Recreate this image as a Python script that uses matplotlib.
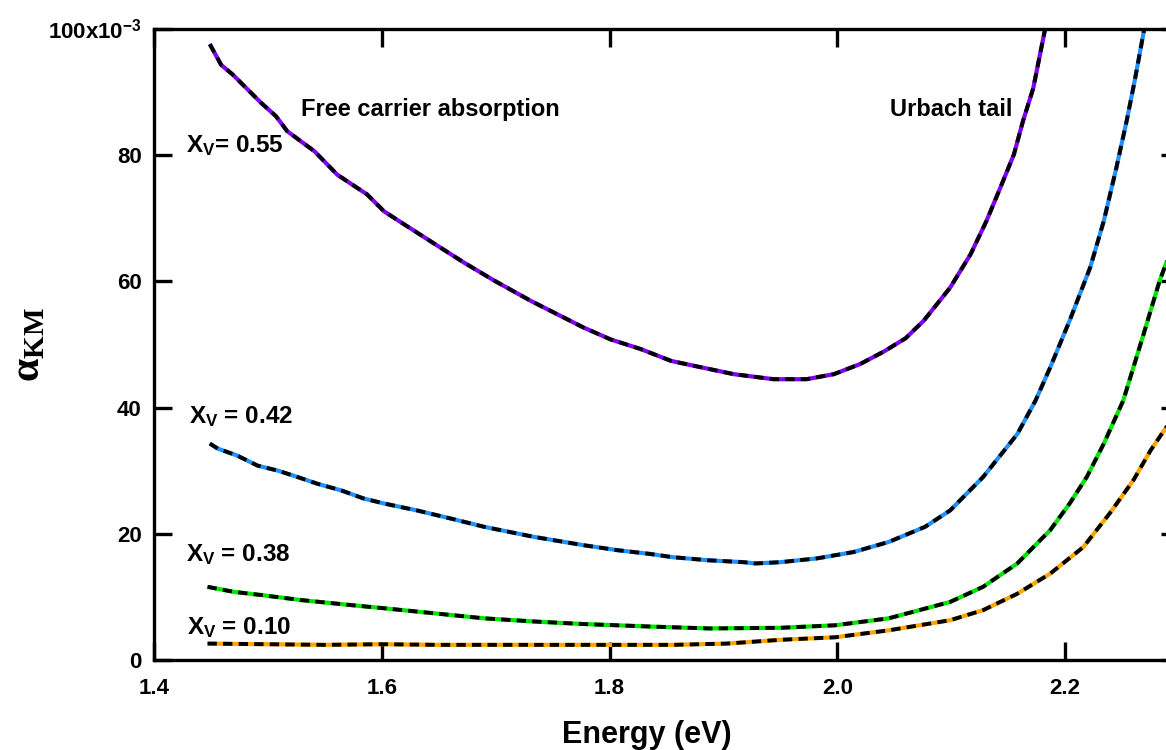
import matplotlib
matplotlib.use("Agg")
import matplotlib.pyplot as plt

# ============================================================
# DATA  (alpha_KM in units of 1e-3)
# ============================================================

x_055 = [1.449, 1.459, 1.469, 1.484, 1.494, 1.507, 1.517, 1.541, 1.561, 1.587,
         1.602, 1.620, 1.652, 1.672, 1.699, 1.731, 1.754, 1.777, 1.801, 1.827,
         1.854, 1.880, 1.909, 1.944, 1.973, 1.997, 2.020, 2.041, 2.060, 2.076,
         2.099, 2.117, 2.131, 2.143, 2.155, 2.163, 2.172, 2.183]
y_055 = [97.6, 94.3, 92.8, 90.1, 88.3, 86.2, 83.8, 80.6, 76.9, 73.8,
         71.1, 69.0, 65.3, 63.0, 60.1, 56.9, 54.8, 52.7, 50.8, 49.3,
         47.4, 46.4, 45.3, 44.5, 44.5, 45.3, 46.9, 48.9, 51.0, 53.8,
         59.0, 64.3, 69.6, 74.8, 80.1, 85.4, 90.6, 100.5]

x_042 = [1.449, 1.456, 1.473, 1.491, 1.509, 1.526, 1.544, 1.564, 1.584, 1.602,
         1.631, 1.661, 1.690, 1.734, 1.777, 1.807, 1.836, 1.855, 1.887, 1.918,
         1.928, 1.950, 1.982, 2.014, 2.045, 2.077, 2.099, 2.128, 2.158, 2.174,
         2.187, 2.204, 2.222, 2.234, 2.245, 2.254, 2.261, 2.270]
y_042 = [34.3, 33.5, 32.4, 30.8, 30.0, 29.0, 27.9, 26.9, 25.6, 24.8,
         23.7, 22.4, 21.1, 19.5, 18.2, 17.4, 16.8, 16.3, 15.8, 15.5,
         15.3, 15.5, 16.1, 17.1, 18.7, 21.1, 23.7, 29.0, 35.8, 41.1,
         46.4, 53.8, 62.2, 69.6, 78.0, 85.4, 91.7, 100.5]

x_038 = [1.447, 1.470, 1.494, 1.529, 1.573, 1.602, 1.646, 1.690, 1.734, 1.777,
         1.836, 1.887, 1.950, 1.998, 2.045, 2.099, 2.128, 2.158, 2.187, 2.204,
         2.219, 2.234, 2.251, 2.268, 2.283, 2.290]
y_038 = [11.6, 10.8, 10.3, 9.5, 8.7, 8.2, 7.4, 6.6, 6.1, 5.7,
         5.3, 5.0, 5.1, 5.5, 6.6, 9.2, 11.6, 15.3, 20.6, 24.8,
         29.0, 34.3, 41.1, 51.1, 60.1, 63.5]

x_010 = [1.447, 1.500, 1.550, 1.600, 1.650, 1.700, 1.750, 1.800, 1.855, 1.903,
         1.950, 1.998, 2.045, 2.099, 2.128, 2.158, 2.187, 2.216, 2.239, 2.260,
         2.275, 2.290]
y_010 = [2.6, 2.5, 2.4, 2.5, 2.4, 2.4, 2.4, 2.4, 2.4, 2.6,
         3.2, 3.6, 4.7, 6.3, 7.9, 10.5, 13.7, 17.9, 23.2, 28.5,
         33.2, 37.2]

series = [
    (x_055, y_055, "#7f00f0"),
    (x_042, y_042, "#1e90ff"),
    (x_038, y_038, "#00e600"),
    (x_010, y_010, "#ffa500"),
]

yticks = [0, 20, 40, 60, 80, 100]
ytick_labels = ["0", "20", "40", "60", "80", r"100x10$^{\mathbf{-3}}$"]
xticks = [1.4, 1.6, 1.8, 2.0, 2.2]
xtick_labels = ["1.4", "1.6", "1.8", "2.0", "2.2"]

# ============================================================
# STYLE
# ============================================================

plt.rcParams["font.family"] = ["Liberation Sans", "DejaVu Sans"]
plt.rcParams["font.weight"] = "bold"
plt.rcParams["mathtext.fontset"] = "custom"
plt.rcParams["mathtext.rm"] = "Liberation Serif"
plt.rcParams["mathtext.it"] = "Liberation Serif:italic"
plt.rcParams["mathtext.bf"] = "Liberation Sans:bold"

fig = plt.figure(figsize=(11.66, 7.5), dpi=100)
ax = fig.add_axes([154 / 1166, 90 / 750, 1025 / 1166, 631 / 750])

for xs, ys, c in series:
    ax.plot(xs, ys, color=c, lw=3.0, solid_capstyle="butt",
            solid_joinstyle="round")
    ax.plot(xs, ys, color="black", lw=2.8, linestyle=(0, (2.4, 1.6)),
            dash_joinstyle="round")

ax.set_xlim(1.4, 2.3)
ax.set_ylim(0, 100)

ax.set_xticks(xticks)
ax.set_xticklabels(xtick_labels)
ax.set_yticks(yticks)
ax.set_yticklabels(ytick_labels)

ax.tick_params(axis="both", direction="in", length=13, width=2.4,
               top=True, right=True, labelsize=16)
ax.tick_params(axis="x", pad=13)
ax.tick_params(axis="y", pad=9)
for lab in ax.get_xticklabels() + ax.get_yticklabels():
    lab.set_fontweight("bold")

for sp in ax.spines.values():
    sp.set_linewidth(2.4)

fig.text(647 / 1166, 1 - 735 / 750, "Energy (eV)", ha="center", va="center",
         fontsize=22, fontweight="bold")
fig.text(28 / 1166, 1 - 345 / 750, r"$\mathrm{\alpha}_{\mathrm{KM}}$",
         ha="center", va="center", rotation=90, fontsize=30)

ax.text(1.529, 86.2, "Free carrier absorption", fontsize=17,
        fontweight="bold", va="baseline")
ax.text(2.046, 86.2, "Urbach tail", fontsize=17, fontweight="bold",
        va="baseline")

ax.text(1.428, 80.4, r"$\mathbf{X}_\mathbf{V}$= 0.55", fontsize=17.5, va="baseline")
ax.text(1.431, 37.5, r"$\mathbf{X}_\mathbf{V}$ = 0.42", fontsize=17.5, va="baseline")
ax.text(1.428, 15.5, r"$\mathbf{X}_\mathbf{V}$ = 0.38", fontsize=17.5, va="baseline")
ax.text(1.429, 3.95, r"$\mathbf{X}_\mathbf{V}$ = 0.10", fontsize=17.5, va="baseline")

fig.savefig("out.png", dpi=100)
